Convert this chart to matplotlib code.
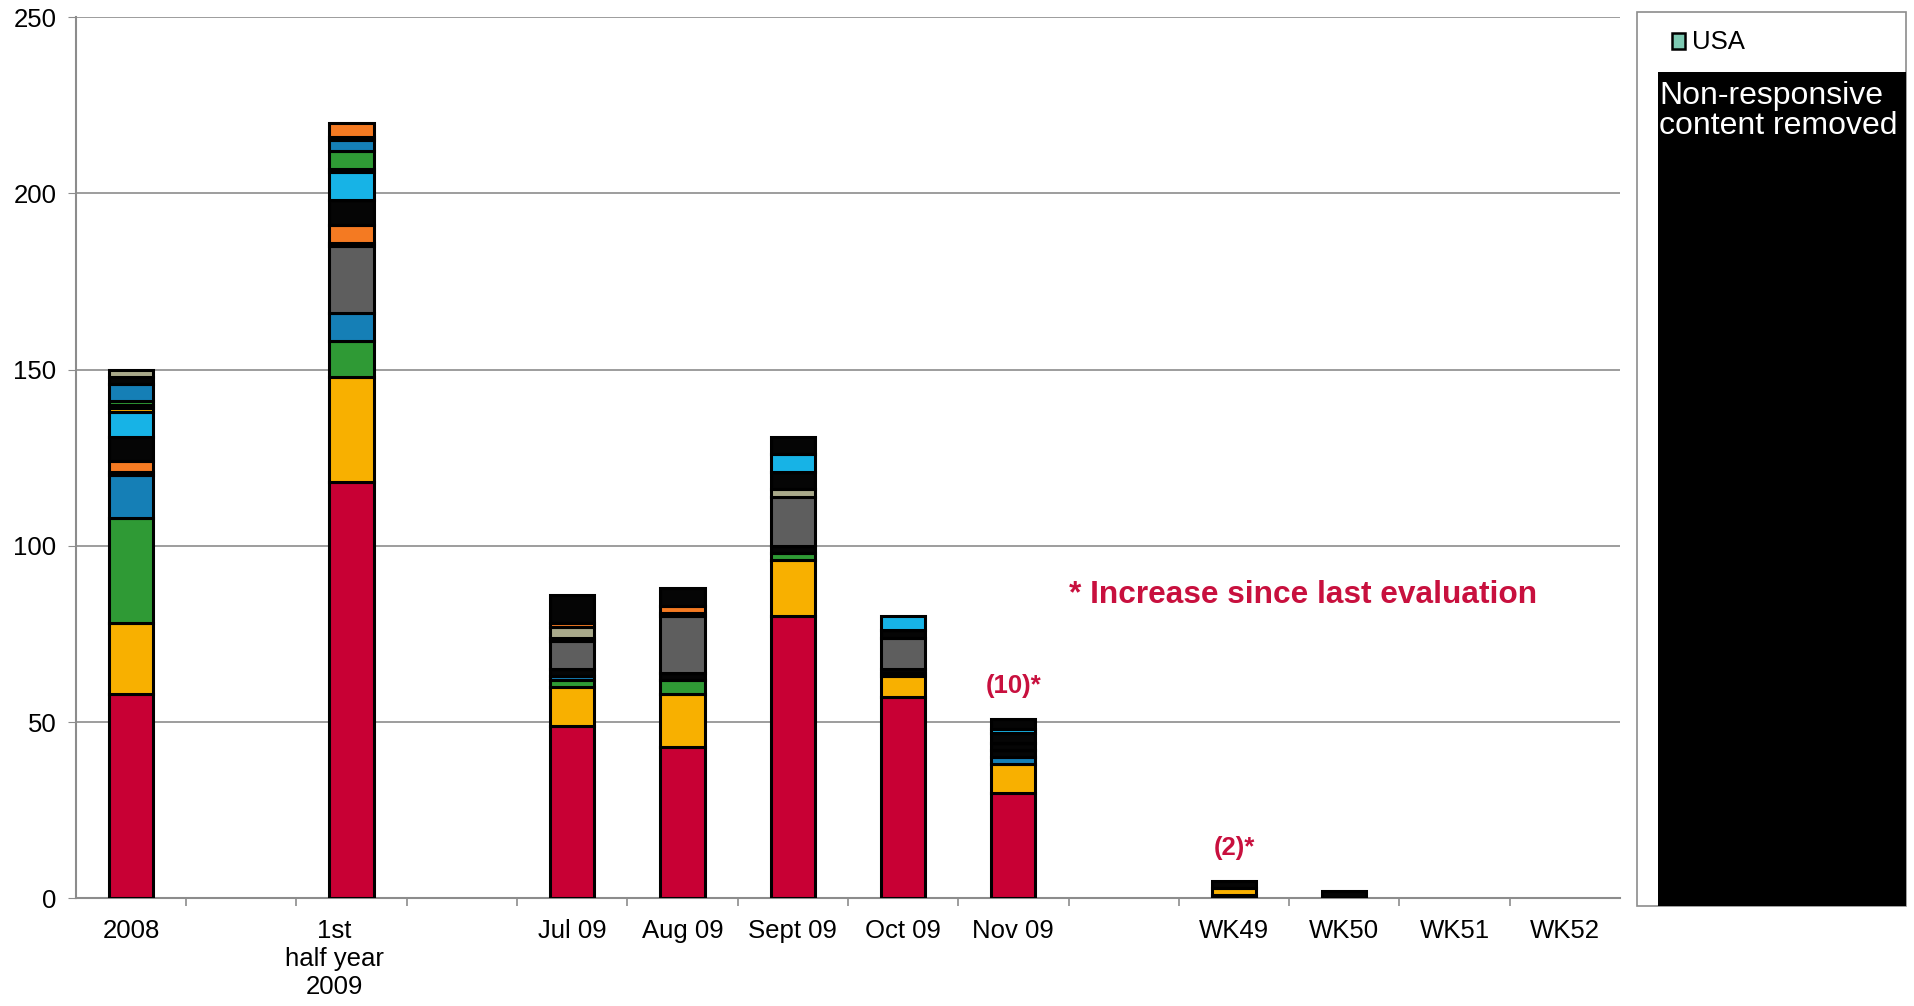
import matplotlib
matplotlib.use("Agg")
import matplotlib.pyplot as plt
import matplotlib.transforms as mtransforms
import numpy as np
from matplotlib.patches import Rectangle

plt.rcParams['font.family'] = ['Liberation Sans', 'DejaVu Sans']

# Categories along the x axis (empty strings are spacer slots)
categories = ["2008", "", "1st\nhalf year\n2009", "", "Jul 09", "Aug 09", "Sept 09",
              "Oct 09", "Nov 09", "", "WK49", "WK50", "WK51", "WK52"]

# Stacked series, bottom to top
s00 = [58, 0, 118, 0, 49, 43, 80, 57, 30, 0, 0, 0, 0, 0]
s01 = [0, 0, 0, 0, 0, 0, 0, 0, 0, 0, 1, 0, 0, 0]
s02 = [20, 0, 30, 0, 11, 15, 16, 6, 8, 0, 2, 0, 0, 0]
s03 = [30, 0, 10, 0, 2, 4, 2, 1, 0, 0, 0, 0, 0, 0]
s04 = [12, 0, 8, 0, 1, 0, 0, 0, 2, 0, 0, 0, 0, 0]
s05 = [1, 0, 0, 0, 2, 2, 2, 1, 2, 0, 0, 0, 0, 0]
s06 = [0, 0, 19, 0, 8, 16, 14, 9, 0, 0, 0, 0, 0, 0]
s07 = [0, 0, 1, 0, 1, 1, 0, 0, 2, 0, 0, 0, 0, 0]
s08 = [0, 0, 0, 0, 3, 0, 2, 0, 0, 0, 0, 0, 0, 0]
s09 = [3, 0, 5, 0, 1, 2, 0, 0, 0, 0, 0, 0, 0, 0]
s10 = [7, 0, 7, 0, 8, 5, 5, 2, 3, 0, 2, 2, 0, 0]
s11 = [7, 0, 8, 0, 0, 0, 5, 4, 1, 0, 0, 0, 0, 0]
s12 = [1, 0, 0, 0, 0, 0, 0, 0, 0, 0, 0, 0, 0, 0]
s13 = [1, 0, 1, 0, 0, 0, 0, 0, 0, 0, 0, 0, 0, 0]
s14 = [1, 0, 5, 0, 0, 0, 0, 0, 0, 0, 0, 0, 0, 0]
s15 = [5, 0, 3, 0, 0, 0, 0, 0, 0, 0, 0, 0, 0, 0]
s16 = [2, 0, 1, 0, 0, 0, 5, 0, 3, 0, 0, 0, 0, 0]
s17 = [0, 0, 4, 0, 0, 0, 0, 0, 0, 0, 0, 0, 0, 0]
s18 = [2, 0, 0, 0, 0, 0, 0, 0, 0, 0, 0, 0, 0, 0]
usa = [0, 0, 0, 0, 0, 0, 0, 0, 0, 0, 0, 0, 0, 0]

RED, YEL, GRN, BLU = "#C80034", "#F8B000", "#2F9A35", "#157FB6"
BLK, GRY, KHA, ORA = "#050505", "#5E5E5E", "#A9A98A", "#F47A22"
CYA, TEAL = "#17B3E6", "#7DC9B2"

series = [s00, s01, s02, s03, s04, s05, s06, s07, s08, s09,
          s10, s11, s12, s13, s14, s15, s16, s17, s18, usa]
colors = [RED, BLK, YEL, GRN, BLU, BLK, GRY, BLK, KHA, ORA,
          BLK, CYA, YEL, BLK, GRN, BLU, BLK, ORA, KHA, TEAL]

# Bar annotations: category index -> text
notes = {8: "(10)*", 10: "(2)*"}
note_text = "* Increase since last evaluation"
ACCENT = "#C8103E"
GRID = "#8C8C8C"

fig = plt.figure(figsize=(19.14, 10.06), dpi=100)
ax = fig.add_axes([0.0396, 0.1069, 0.8068, 0.8762])

x = np.arange(len(categories))
bottom = np.zeros(len(categories))
for vals, col in zip(series, colors):
    v = np.asarray(vals, dtype=float)
    m = v > 0
    if m.any():
        ax.bar(x[m], v[m], width=0.4, bottom=bottom[m], color=col,
               edgecolor="black", linewidth=2.2, zorder=3)
    bottom += v
totals = bottom

ax.set_xlim(-0.5, len(categories) - 0.5)
ax.set_ylim(0, 250)
ax.set_yticks(np.arange(0, 251, 50))
ax.yaxis.grid(True, color=GRID, linewidth=1.2, zorder=0)
for side in ("top", "right"):
    ax.spines[side].set_visible(False)
for side in ("left", "bottom"):
    ax.spines[side].set_color(GRID)
    ax.spines[side].set_linewidth(1.5)

ax.tick_params(axis="y", length=6, color=GRID, labelsize=18.5, pad=8)
ax.set_xticks(x)
ax.set_xticklabels(categories)
ax.tick_params(axis="x", which="major", length=0, labelsize=18.5, pad=15)
ax.set_xticks(np.arange(0.5, len(categories) - 0.5, 1), minor=True)
ax.tick_params(axis="x", which="minor", length=6, color=GRID, width=1.2)

# the three-line label sits a little left of its bar
lbl = ax.get_xticklabels()[2]
lbl.set_transform(lbl.get_transform() + mtransforms.ScaledTranslation(-0.17, 0, fig.dpi_scale_trans))

for i, t in notes.items():
    ax.text(x[i], totals[i] + 9.3, t, ha="center", va="center", color=ACCENT,
            fontsize=18.5, fontweight="bold")
ax.text(8.5, 86.0, note_text, ha="left", va="center", color=ACCENT,
        fontsize=22.8, fontweight="bold")

# Legend panel
fig.patches.append(Rectangle((0.8553, 0.0994), 0.1405, 0.8887, transform=fig.transFigure,
                             facecolor="white", edgecolor=GRID, linewidth=1.2))
fig.patches.append(Rectangle((0.8734, 0.9513), 0.0072, 0.0159, transform=fig.transFigure,
                             facecolor=TEAL, edgecolor="black", linewidth=1.8))
fig.text(0.8840, 0.9585, "USA", ha="left", va="center", fontsize=18.5)
fig.patches.append(Rectangle((0.8662, 0.0994), 0.1296, 0.8290, transform=fig.transFigure,
                             facecolor="black", edgecolor="none"))
fig.text(0.8668, 0.9190, "Non-responsive\ncontent removed", ha="left", va="top",
         color="white", fontsize=23, linespacing=1.0)

fig.savefig("out.png", dpi=100)
